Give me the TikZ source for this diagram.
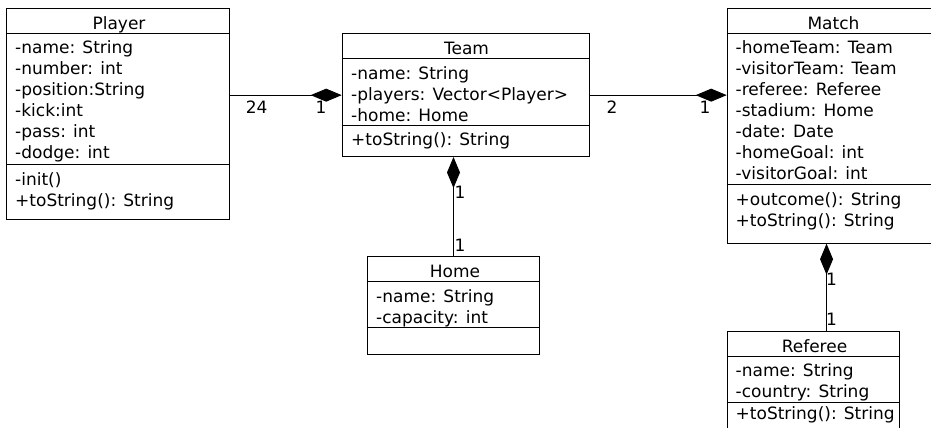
\documentclass[tikz,border=0pt]{standalone}
\usepackage{fontspec}
\setmainfont{DejaVu Sans}
\usetikzlibrary{arrows.meta}
\newcommand\mystrut{\rule{0pt}{14pt}}
\begin{document}
\begin{tikzpicture}[x=1pt,y=-1pt,
  every node/.style={font=\fontsize{17}{21}\selectfont, inner sep=0pt},
  classbox/.style={draw, line width=1pt, anchor=north west, inner sep=0pt},
  divider/.style={line width=1pt},
  attr/.style={anchor=north west, align=left},
  ttl/.style={anchor=base},
  comp/.style={line width=1pt, {Diamond[length=31pt,width=13pt]}-},
  mult/.style={anchor=base}]
\clip (0,0) rectangle (931,428);
% ---------- Player ----------
\node[classbox, minimum width=223pt, minimum height=211pt] (player) at (6,8.3) {};
\draw[divider] ([yshift=-25pt]player.north west) -- ([yshift=-25pt]player.north east);
\draw[divider] ([yshift=-155.7pt]player.north west) -- ([yshift=-155.7pt]player.north east);
\node[ttl] (playerT) at (119,29.3) {Player};
\node[attr] (playerA) at (15,39.3) {\mystrut-name: String\\-number: int\\-position:String\\-kick:int\\-pass: int\\-dodge: int};
\node[attr] (playerM) at (15,171) {\mystrut-init()\\+toString(): String};
% ---------- Team ----------
\node[classbox, minimum width=247.3pt, minimum height=122.7pt] (team) at (341.7,33.3) {};
\draw[divider] ([yshift=-25pt]team.north west) -- ([yshift=-25pt]team.north east);
\draw[divider] ([yshift=-92.4pt]team.north west) -- ([yshift=-92.4pt]team.north east);
\node[ttl] (teamT) at (466.5,54.3) {Team};
\node[attr] (teamA) at (351,65.3) {\mystrut-name: String\\-players: Vector<Player>\\-home: Home};
\node[attr] (teamM) at (351,131) {\mystrut+toString(): String};
% ---------- Match ----------
\node[classbox, minimum width=213.3pt, minimum height=234.4pt] (match) at (726.7,8.3) {};
\draw[divider] ([yshift=-25pt]match.north west) -- ([yshift=-25pt]match.north east);
\draw[divider] ([yshift=-175.7pt]match.north west) -- ([yshift=-175.7pt]match.north east);
\node[ttl] (matchT) at (833.5,29.3) {Match};
\node[attr] (matchA) at (735.5,39.3) {\mystrut-homeTeam: Team\\-visitorTeam: Team\\-referee: Referee\\-stadium: Home\\-date: Date\\-homeGoal: int\\-visitorGoal: int};
\node[attr] (matchM) at (735.5,191) {\mystrut+outcome(): String\\+toString(): String};
% ---------- Home ----------
\node[classbox, minimum width=172.6pt, minimum height=98pt] (home) at (366.7,256) {};
\draw[divider] ([yshift=-25.5pt]home.north west) -- ([yshift=-25.5pt]home.north east);
\draw[divider] ([yshift=-71.7pt]home.north west) -- ([yshift=-71.7pt]home.north east);
\node[ttl] (homeT) at (455,277) {Home};
\node[attr] (homeA) at (376,288.5) {\mystrut-name: String\\-capacity: int};
% ---------- Referee ----------
\node[classbox, minimum width=172.3pt, minimum height=110pt] (referee) at (726.7,331) {};
\draw[divider] ([yshift=-25.7pt]referee.north west) -- ([yshift=-25.7pt]referee.north east);
\draw[divider] ([yshift=-71pt]referee.north west) -- ([yshift=-71pt]referee.north east);
\node[ttl] (refereeT) at (814.5,352.7) {Referee};
\node[attr] (refereeA) at (735.5,362.7) {\mystrut-name: String\\-country: String};
\node[attr] (refereeM) at (735.5,405) {\mystrut+toString(): String};
% ---------- connectors ----------
\draw[comp] (team.west) -- (team.west -| player.east);
\draw[comp] (team.east -| match.west) -- (team.east);
\draw[comp] (home.north |- team.south) -- (home.north);
\draw[comp] ([xshift=-7.3pt]match.south) -- ([xshift=-7.3pt]match.south |- referee.north);
% ---------- multiplicities ----------
\node[mult] (m24) at (256.7,113.3) {24};
\node[mult] (m1a) at (321,113.3) {1};
\node[mult] (m2) at (612,113.3) {2};
\node[mult] (m1b) at (705,113.3) {1};
\node[mult] (m1c) at (460,198) {1};
\node[mult] (m1d) at (460,251) {1};
\node[mult] (m1e) at (831.5,285) {1};
\node[mult] (m1f) at (831.5,325) {1};
\end{tikzpicture}
\end{document}
